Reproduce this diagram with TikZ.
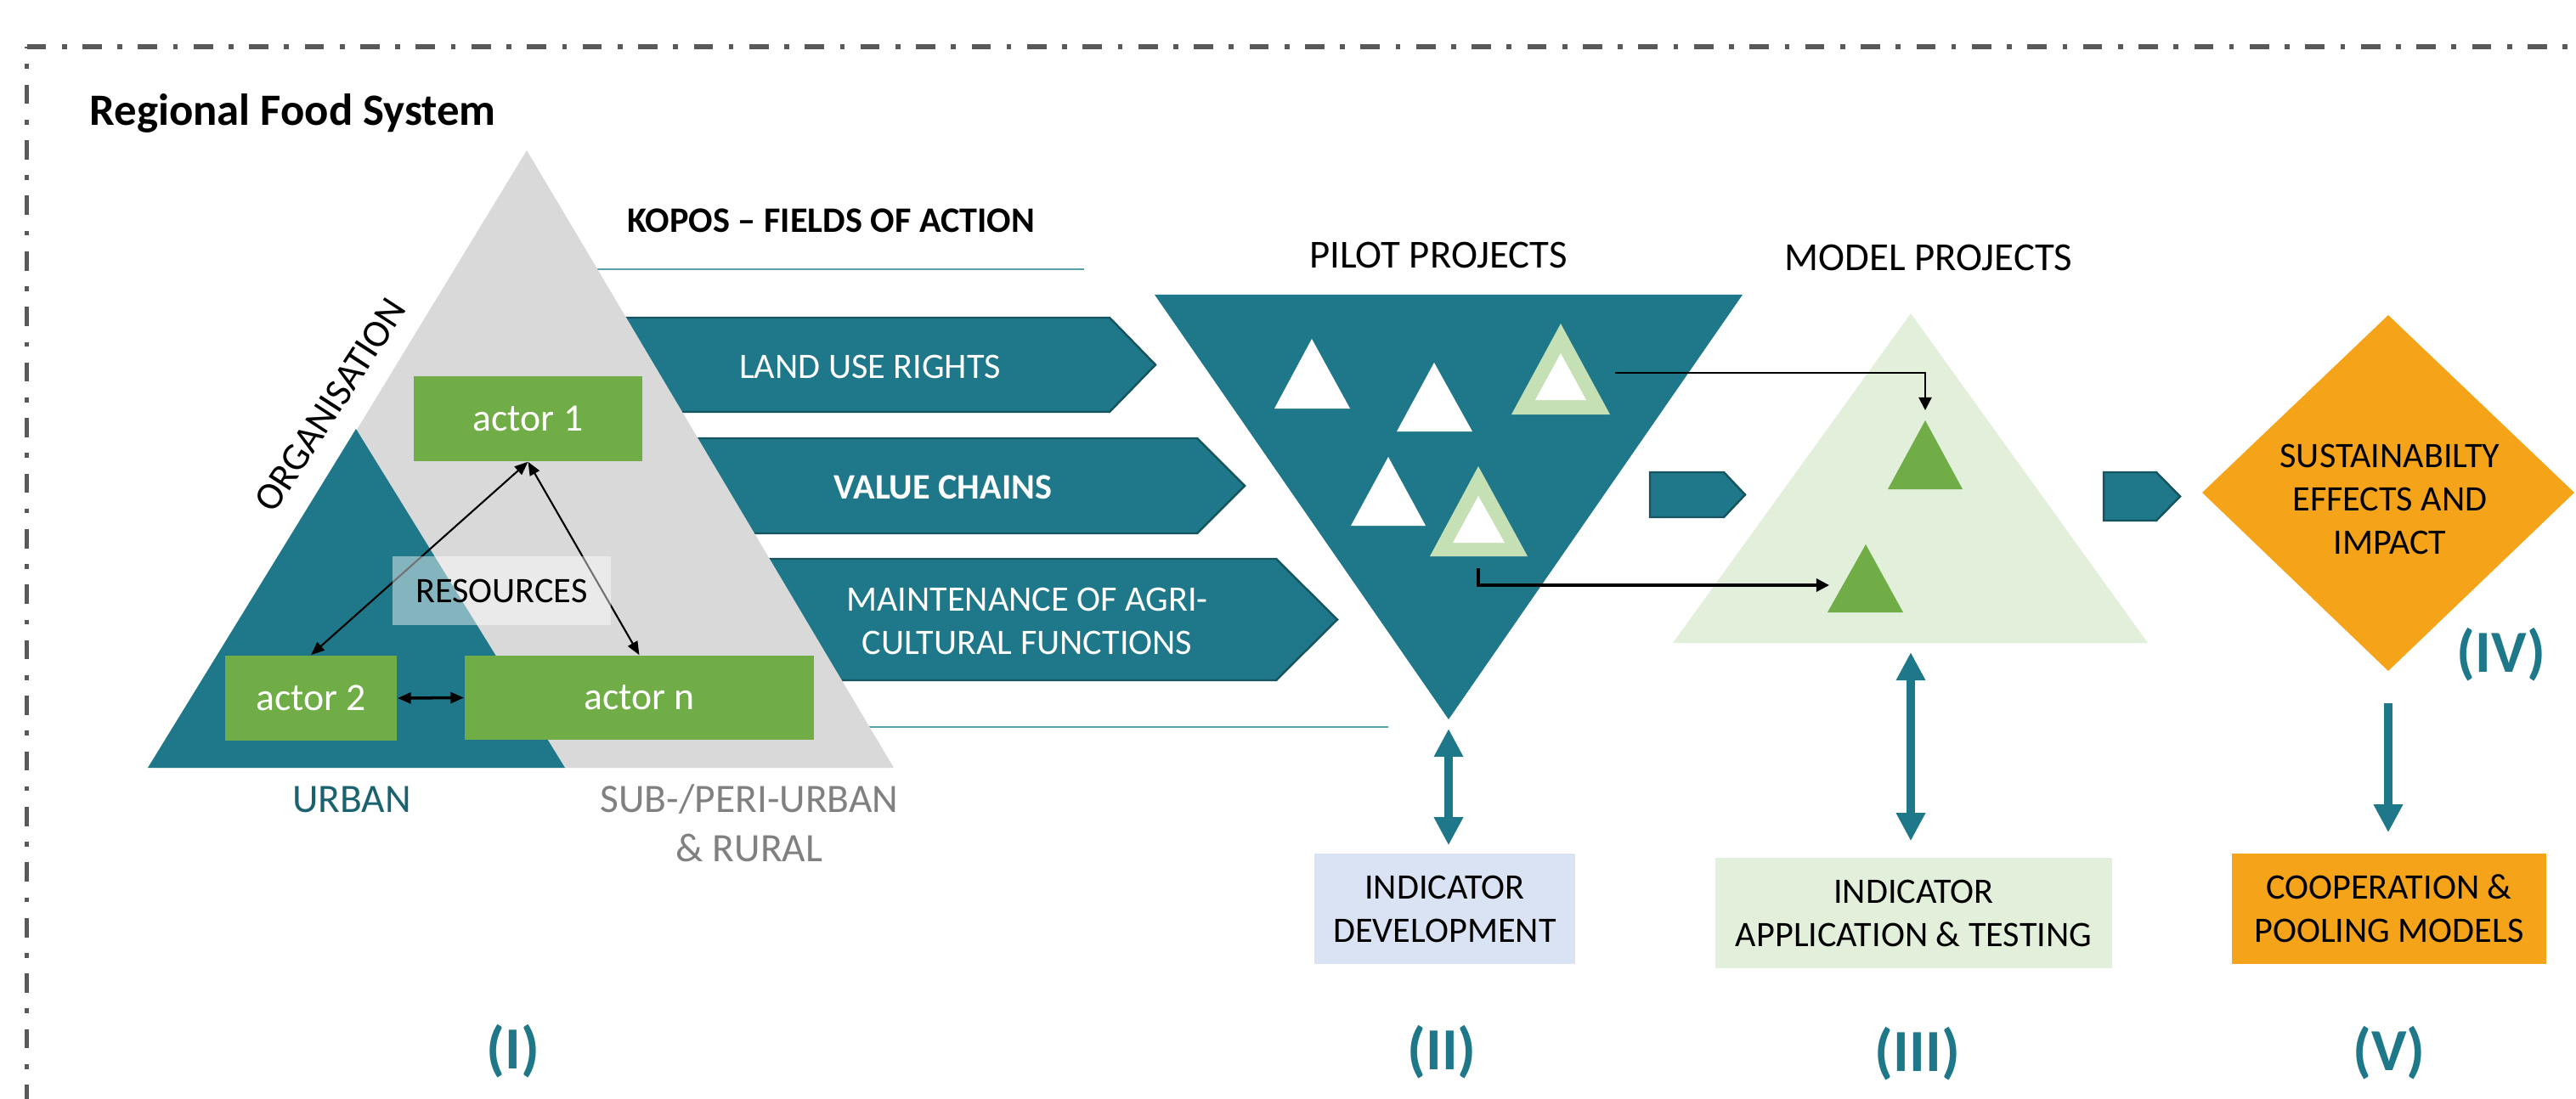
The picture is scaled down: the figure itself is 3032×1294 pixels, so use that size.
\documentclass[tikz,border=0pt]{standalone}
\usepackage{fontspec}
\setmainfont{Carlito}
\usetikzlibrary{arrows.meta}
\definecolor{kteal}{RGB}{31,120,137}
\definecolor{kgrey}{RGB}{217,217,217}
\definecolor{kgreen}{RGB}{112,173,71}
\definecolor{klgreen}{RGB}{226,239,218}
\definecolor{kmgreen}{RGB}{197,224,180}
\definecolor{kblue}{RGB}{218,227,243}
\definecolor{korange}{RGB}{245,164,26}
\definecolor{kborder}{RGB}{89,89,89}
\definecolor{kurban}{RGB}{27,98,112}
\definecolor{kline}{RGB}{90,160,172}
\begin{document}
\begin{tikzpicture}[x=0.01cm, y=-0.01cm,
  txt/.style={inner sep=0pt, align=center, font=\fontsize{12}{14.5}\selectfont},
  field/.style={fill=kteal, draw=kteal!70!black, line width=0.7pt},
  chev/.style={fill=kteal, draw=kteal!70!black, line width=0.7pt},
  abox/.style={fill=kgreen, text=white, inner sep=0pt, font=\fontsize{13}{15}\selectfont},
  aarr/.style={draw=black, line width=0.6pt, arrows={Triangle[length=4.5pt,width=3.6pt]-Triangle[length=4.5pt,width=3.6pt]}},
  parr/.style={draw=black, line width=0.6pt, arrows={-Triangle[length=4.3pt,width=4.3pt]}},
  tdbl/.style={draw=kteal, line width=2.6pt, arrows={Triangle[length=9.4pt,width=9.2pt]-Triangle[length=9.4pt,width=9.2pt]}},
  tsgl/.style={draw=kteal, line width=2.6pt, arrows={-Triangle[length=9.4pt,width=9.2pt]}},
  ibox/.style={inner sep=0pt, align=center, font=\fontsize{12}{14.5}\selectfont},
  num/.style={text=kteal, inner sep=0pt, font=\bfseries\fontsize{20}{24}\selectfont},
  bord/.style={draw=kborder, line width=1.62pt, dash pattern=on 6.46pt off 5.26pt on 1.62pt off 5.26pt},
  ptitle/.style={anchor=base, inner sep=0pt, font=\fontsize{13.3}{16}\selectfont}
]
\useasboundingbox (0,0) rectangle (3032,1294);

% frame
\draw[bord] (31.6,55) -- (3040,55);
\draw[bord, dash phase=5.9pt] (31.6,55) -- (31.6,1300);

% title
\node[anchor=base west, inner sep=0pt, font=\bfseries\fontsize{15}{18}\selectfont] (title) at (105,148) {Regional Food System};

% thin teal lines
\draw[kline, line width=0.7pt] (690,317) -- (1276,317);
\draw[kline, line width=0.7pt] (1000,856) -- (1634,856);

% fields of action arrows
\path[field] (700,374) -- (1306,374) -- (1360,429.5) -- (1306,485) -- (700,485) -- cycle;
\path[field] (700,516) -- (1409,516) -- (1465,572) -- (1409,628) -- (700,628) -- cycle;
\path[field] (700,658) -- (1502,658) -- (1574,729.5) -- (1502,801) -- (700,801) -- cycle;

% organisation triangles
\fill[kgrey] (178,904) -- (1052,904) -- (620,177) -- cycle;
\fill[kteal] (174,904) -- (665,904) -- (419,505) -- cycle;

\node[anchor=base west, inner sep=0pt, font=\bfseries\fontsize{12}{14.5}\selectfont] (kopos) at (738,274) {KOPOS – FIELDS OF ACTION};

\node[txt, text=white] (land) at (1024,432) {LAND USE RIGHTS};
\node[txt, text=white, font=\bfseries\fontsize{12}{14.5}\selectfont] (value) at (1110,574) {VALUE CHAINS};
\node[txt, text=white] (maint) at (1209,731) {MAINTENANCE OF AGRI-\\CULTURAL FUNCTIONS};

% actors
\node[abox, minimum width=2.69cm, minimum height=1.0cm] (a1) at (621.5,493) {actor 1};
\node[abox, minimum width=2.02cm, minimum height=1.0cm] (a2) at (366,822) {actor 2};
\node[abox, minimum width=4.11cm, minimum height=0.99cm] (an) at (752.5,821.5) {actor n};
\draw[aarr] (a1.south) -- (a2.north);
\draw[aarr] (a1.south) -- (an.north);
\draw[aarr, line width=1pt] (a2.east) -- (an.west);

\node[fill=white, fill opacity=0.45, text opacity=1, minimum width=2.57cm, minimum height=0.81cm, inner sep=0pt, font=\fontsize{12}{14.5}\selectfont] (res) at (590.5,695.5) {RESOURCES};

\node[rotate=57, inner sep=0pt, font=\fontsize{13}{15}\selectfont] (org) at (389,477) {ORGANISATION};

\node[anchor=base, inner sep=0pt, text=kurban, font=\fontsize{13.5}{16.5}\selectfont] (urban) at (414,956) {URBAN};
\node[align=center, inner sep=0pt, text=gray, font=\fontsize{13.5}{16.5}\selectfont] (sub) at (882,969.5) {SUB-/PERI-URBAN\\\& RURAL};

% pilot projects
\node[ptitle] (pilott) at (1693,315) {PILOT PROJECTS};
\fill[kteal] (1359,347) -- (2051,347) -- (1705,847) -- cycle;
\coordinate (pilot) at (1705,847);
\fill[white] (1500,481) -- (1589,481) -- (1544,399) -- cycle;
\fill[white] (1644,508) -- (1733,508) -- (1688,427) -- cycle;
\fill[white] (1590,619) -- (1678,619) -- (1634,538) -- cycle;
\fill[kmgreen] (1779,488) -- (1895,488) -- (1837,381) -- cycle;
\fill[white] (1807,471) -- (1867,471) -- (1837,416) -- cycle;
\fill[kmgreen] (1683,655) -- (1798,655) -- (1740,549) -- cycle;
\fill[white] (1710,639) -- (1771,639) -- (1740,584) -- cycle;

% model projects
\node[ptitle] (modelt) at (2270,318) {MODEL PROJECTS};
\fill[klgreen] (1969,757) -- (2528,757) -- (2249,369) -- cycle;
\coordinate (model) at (2249,757);
\fill[kgreen] (2222,576) -- (2310,576) -- (2266,495) -- cycle;
\fill[kgreen] (2151,721) -- (2240,721) -- (2196,641) -- cycle;

\coordinate (t3) at (1901,439);
\coordinate (g1) at (2266,483);
\draw[parr] (t3) -| (g1);
\coordinate (t5) at (1740,669);
\coordinate (g2) at (2153,689);
\draw[parr, line width=0.9pt] (t5) |- (g2);

% chevrons
\path[chev] (1942,556) -- (2029,556) -- (2054,582.5) -- (2029,609) -- (1942,609) -- cycle;
\path[chev] (2476,556) -- (2538,556) -- (2566,584.5) -- (2538,613) -- (2476,613) -- cycle;

% sustainability diamond
\fill[korange] (2811,371) -- (3030,580) -- (2811,790) -- (2592,580) -- cycle;
\coordinate (diam) at (2811,790);
\node[ibox] (sust) at (2813,588) {SUSTAINABILTY\\EFFECTS AND\\IMPACT};

% bottom boxes
\node[ibox, fill=kblue, minimum width=3.07cm, minimum height=1.3cm] (dev) at (1700.5,1070) {INDICATOR\\DEVELOPMENT};
\node[ibox, fill=klgreen, minimum width=4.67cm, minimum height=1.3cm] (app) at (2252.5,1075) {INDICATOR\\APPLICATION \& TESTING};
\node[ibox, fill=korange, minimum width=3.7cm, minimum height=1.3cm] (coop) at (2812,1070) {COOPERATION \&\\POOLING MODELS};

\draw[tdbl, shorten <=0.11cm, shorten >=0.09cm] (pilot) -- (pilot |- dev.north);
\draw[tdbl, shorten <=0.11cm, shorten >=0.19cm] (model) -- (model |- app.north);
\draw[tsgl, shorten <=0.38cm, shorten >=0.24cm] (diam) -- (diam |- coop.north);

% numerals
\node[num] (n1) at (604,1238) {(I)};
\node[num] (n2) at (1697,1239) {(II)};
\node[num] (n3) at (2257,1241) {(III)};
\node[num] (n4) at (2944,771) {(IV)};
\node[num] (n5) at (2812,1240) {(V)};
\end{tikzpicture}
\end{document}
